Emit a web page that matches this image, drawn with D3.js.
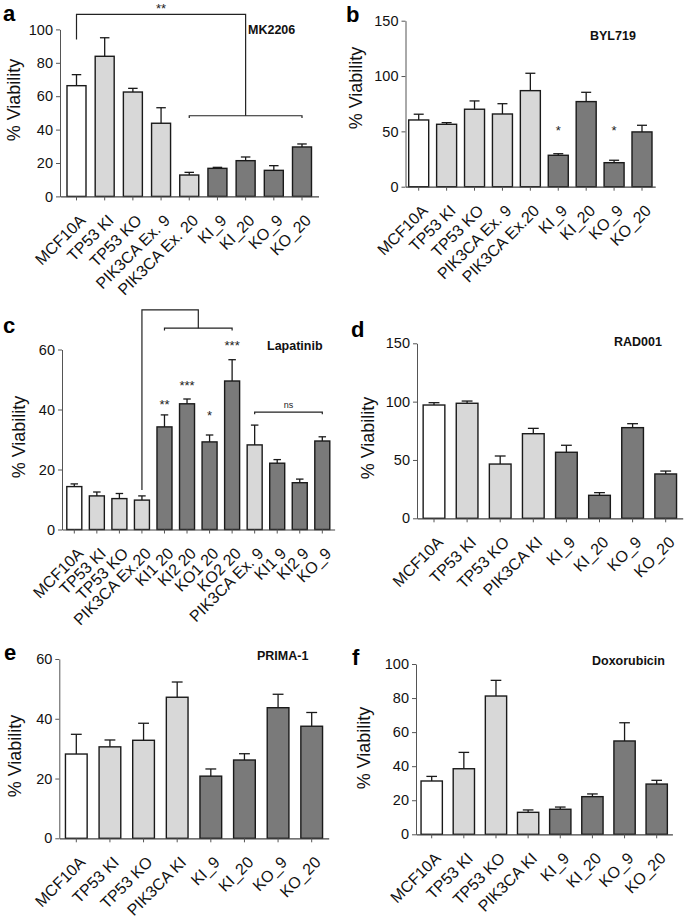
<!DOCTYPE html>
<html><head><meta charset="utf-8">
<script src="https://cdn.jsdelivr.net/npm/d3@7"></script>
<style>
body{margin:0;background:#fff;}
svg{display:block;font-family:"Liberation Sans",Arial,sans-serif;}
</style></head>
<body><svg id="chart" width="685" height="918"></svg>
<script>
// ---------- DATA ----------
const catsA = ["MCF10A","TP53 KI","TP53 KO","PIK3CA Ex. 9","PIK3CA Ex. 20","KI_9","KI_20","KO_9","KO_20"];
const valsA = [66.3, 83.9, 62.5, 43.8, 12.8, 16.8, 21.4, 15.6, 29.6];
const errA  = [72.9, 95.0, 64.7, 53.1, 14.4, 17.4, 23.6, 18.4, 31.4];
const grpA  = ["w","l","l","l","l","d","d","d","d"];
const ticksA = [0,20,40,60,80,100];

const catsB = ["MCF10A","TP53 KI","TP53 KO","PIK3CA Ex. 9","PIK3CA Ex.20","KI_9","KI_20","KO_9","KO_20"];
const valsB = [60.3, 56.4, 70.0, 65.7, 86.8, 28.4, 76.9, 21.7, 49.5];
const errB  = [65.5, 57.9, 77.5, 75.0, 102.5, 29.8, 85.3, 23.9, 55.5];
const grpB  = ["w","l","l","l","l","d","d","d","d"];
const ticksB = [0,50,100,150];
const starsB = [{cat:"KI_9", label:"*", v:53.3},{cat:"KO_9", label:"*", v:53.3}];

const catsC = ["MCF10A","TP53 KI","TP53 KO","PIK3CA Ex.20","KI1 20","KI2 20","KO1 20","KO2 20","PIK3CA Ex. 9","KI1 9","KI2 9","KO_9"];
const valsC = [14.3, 11.2, 10.3, 9.8, 34.2, 41.9, 29.2, 49.5, 28.2, 22.1, 15.6, 29.5];
const errC  = [15.2, 12.5, 12.0, 11.2, 38.2, 43.5, 31.5, 56.6, 34.8, 23.3, 16.8, 30.9];
const grpC  = ["w","l","l","l","d","d","d","d","l","d","d","d"];
const ticksC = [0,20,40,60];
const starsC = [{cat:"KI1 20",label:"**",v:42.6},{cat:"KI2 20",label:"***",v:48.8},{cat:"KO1 20",label:"*",v:38.8},{cat:"KO2 20",label:"***",v:62.3}];

const catsD = ["MCF10A","TP53 KI","TP53 KO","PIK3CA KI","KI_9","KI_20","KO_9","KO_20"];
const valsD = [97.1, 98.6, 46.5, 72.5, 56.6, 19.7, 77.7, 38.0];
const errD  = [99.1, 100.5, 53.4, 77.1, 62.6, 22.0, 81.1, 40.5];
const grpD  = ["w","l","l","l","d","d","d","d"];
const ticksD = [0,50,100,150];

const catsE = ["MCF10A","TP53 KI","TP53 KO","PIK3CA KI","KI_9","KI_20","KO_9","KO_20"];
const valsE = [28.2, 30.6, 32.8, 47.2, 20.8, 26.2, 43.7, 37.5];
const errE  = [34.8, 32.9, 38.5, 52.3, 23.2, 28.3, 48.2, 42.1];
const grpE  = ["w","l","l","l","d","d","d","d"];
const ticksE = [0,20,40,60];

const catsF = ["MCF10A","TP53 KI","TP53 KO","PIK3CA KI","KI_9","KI_20","KO_9","KO_20"];
const valsF = [31.3, 38.5, 81.2, 12.9, 14.7, 22.1, 54.8, 29.5];
const errF  = [34.0, 48.1, 90.4, 14.3, 16.0, 23.7, 65.5, 31.7];
const grpF  = ["w","l","l","l","d","d","d","d"];
const ticksF = [0,20,40,60,80,100];

// ---------- STYLE / LAYOUT ----------
const fills = {w:"#ffffff", l:"#d8d8d8", d:"#7a7a7a"};
const svg = d3.select("#chart");

const panels = [
 {letter:"a", lx:3, ly:21, title:"MK2206", tx:248, ty:34, cats:catsA, vals:valsA, errs:errA, grp:grpA, ticks:ticksA,
  y0:196.4, y1:29.4, x0:60, first:76.5, last:302, bw:19, ylx:20, yly:100},
 {letter:"b", lx:346, ly:22, title:"BYL719", tx:590, ty:40, cats:catsB, vals:valsB, errs:errB, grp:grpB, ticks:ticksB,
  y0:186.7, y1:20.7, x0:405.5, first:418.7, last:642, bw:20, ylx:362, yly:88, stars:starsB},
 {letter:"c", lx:3, ly:333, title:"Lapatinib", tx:267, ty:350, cats:catsC, vals:valsC, errs:errC, grp:grpC, ticks:ticksC,
  y0:529.5, y1:349.5, x0:62, first:74.3, last:322.3, bw:15, ylx:25, yly:437, stars:starsC},
 {letter:"d", lx:351, ly:337, title:"RAD001", tx:614, ty:346, cats:catsD, vals:valsD, errs:errD, grp:grpD, ticks:ticksD,
  y0:518.3, y1:343.3, x0:417, first:434, last:665.7, bw:21.7, ylx:374, yly:438},
 {letter:"e", lx:4, ly:660, title:"PRIMA-1", tx:257, ty:660, cats:catsE, vals:valsE, errs:errE, grp:grpE, ticks:ticksE,
  y0:838.3, y1:659, x0:59.3, first:76.3, last:311.7, bw:21.7, ylx:21, yly:756},
 {letter:"f", lx:352, ly:665, title:"Doxorubicin", tx:592, ty:665, cats:catsF, vals:valsF, errs:errF, grp:grpF, ticks:ticksF,
  y0:834.3, y1:664, x0:416, first:431.7, last:656.7, bw:21.3, ylx:370, yly:748}
];

function drawPanel(p){
  const g = svg.append("g");
  const n = p.cats.length;
  const step = (p.last - p.first)/(n-1);
  const pI = 1 - p.bw/step;
  const pO = (p.first - p.x0 - p.bw/2)/step;
  const x = d3.scaleBand().domain(p.cats).range([p.x0, p.last + (p.first - p.x0)]).paddingInner(pI).paddingOuter(pO);
  const yMax = d3.max(p.ticks);
  const y = d3.scaleLinear().domain([0, yMax]).range([p.y0, p.y1]);
  p.x = x; p.y = y; p.g = g;

  const data = p.cats.map((c,i)=>({c, v:p.vals[i], e:p.errs[i], g:p.grp[i]}));
  g.selectAll("rect.bar").data(data).join("rect")
    .attr("x", d=>x(d.c)).attr("width", x.bandwidth())
    .attr("y", d=>y(d.v)).attr("height", d=>y(0)-y(d.v))
    .attr("fill", d=>fills[d.g]).attr("stroke","#1a1a1a").attr("stroke-width",1.4);
  const cap = x.bandwidth()*0.5;
  const eb = g.selectAll("g.eb").data(data).join("g");
  eb.append("line").attr("x1", d=>x(d.c)+x.bandwidth()/2).attr("x2", d=>x(d.c)+x.bandwidth()/2)
    .attr("y1", d=>y(d.v)).attr("y2", d=>y(d.e)).attr("stroke","#1a1a1a").attr("stroke-width",1.3);
  eb.append("line").attr("x1", d=>x(d.c)+x.bandwidth()/2-cap/2).attr("x2", d=>x(d.c)+x.bandwidth()/2+cap/2)
    .attr("y1", d=>y(d.e)).attr("y2", d=>y(d.e)).attr("stroke","#1a1a1a").attr("stroke-width",1.3);

  const ya = g.append("g").attr("transform",`translate(${p.x0},0)`)
    .call(d3.axisLeft(y).tickValues(p.ticks).tickSize(4).tickSizeOuter(0).tickPadding(3).tickFormat(d3.format("d")));
  ya.attr("font-size",null).attr("font-family",null);
  ya.select(".domain").attr("stroke","#555");
  ya.selectAll(".tick line").attr("stroke","#555");
  ya.selectAll("text").style("font-size","14.5px").attr("fill","#111");

  const xa = g.append("g").attr("transform",`translate(0,${p.y0})`)
    .call(d3.axisBottom(x).tickSize(4).tickSizeOuter(0));
  xa.attr("font-size",null).attr("font-family",null);
  xa.select(".domain").attr("stroke","#444").attr("stroke-width",1.2);
  xa.selectAll(".tick line").attr("stroke","#555");
  xa.selectAll("text").style("font-size","16px").attr("fill","#111")
    .attr("text-anchor","end").attr("dy",null).attr("y",null)
    .attr("transform","translate(10,25) rotate(-45)");

  g.append("text").attr("transform",`translate(${p.ylx},${p.yly}) rotate(-90)`)
    .attr("text-anchor","middle").style("font-size","18px").attr("fill","#111").text("% Viability");
  g.append("text").attr("x",p.lx).attr("y",p.ly).style("font-size","22px").attr("font-weight","bold").attr("fill","#000").text(p.letter);
  g.append("text").attr("x",p.tx).attr("y",p.ty).style("font-size","12.5px").attr("font-weight","bold").attr("fill","#111").text(p.title);
  if(p.stars){
    g.selectAll("text.star").data(p.stars).join("text")
      .attr("x", d=>x(d.cat)+x.bandwidth()/2).attr("y", d=>y(d.v)+7)
      .attr("text-anchor","middle").style("font-size","13px").attr("fill","#222").text(d=>d.label);
  }
  return p;
}
panels.forEach(drawPanel);

function cx(p,c){return p.x(c)+p.x.bandwidth()/2;}
const pa = panels[0], pc = panels[2];
const line = (g,pts)=>g.append("path").attr("d", d3.line()(pts)).attr("fill","none").attr("stroke","#222").attr("stroke-width",1.2);
{
  const y = pa.y, l = cx(pa,"PIK3CA Ex. 20"), r = cx(pa,"KO_20"), m=(l+r)/2;
  line(pa.g, [[l,y(47)],[l,y(48.3)],[r,y(48.3)],[r,y(47)]]);
  line(pa.g, [[cx(pa,"MCF10A"),y(94)],[cx(pa,"MCF10A"),y(109)],[m,y(109)],[m,y(48.3)]]);
  pa.g.append("text").attr("x",(cx(pa,"MCF10A")+m)/2).attr("y",y(109)-1).attr("text-anchor","middle").style("font-size","13px").attr("fill","#222").text("**");
}
{
  const y = pc.y, l = cx(pc,"KI1 20"), r = cx(pc,"KO2 20"), m=(l+r)/2;
  line(pc.g, [[l,y(66.3)],[l,y(67.1)],[r,y(67.1)],[r,y(66.3)]]);
  const e = cx(pc,"PIK3CA Ex.20");
  line(pc.g, [[e,y(13.2)],[e,y(73.2)],[m,y(73.2)],[m,y(67.1)]]);
  const nl = cx(pc,"PIK3CA Ex. 9"), nr = cx(pc,"KO_9");
  line(pc.g, [[nl,y(38.4)],[nl,y(39.1)],[nr,y(39.1)],[nr,y(38.4)]]);
  pc.g.append("text").attr("x",(nl+nr)/2).attr("y",y(39.1)-4).attr("text-anchor","middle").style("font-size","9px").attr("fill","#222").text("ns");
}
</script></body></html>
